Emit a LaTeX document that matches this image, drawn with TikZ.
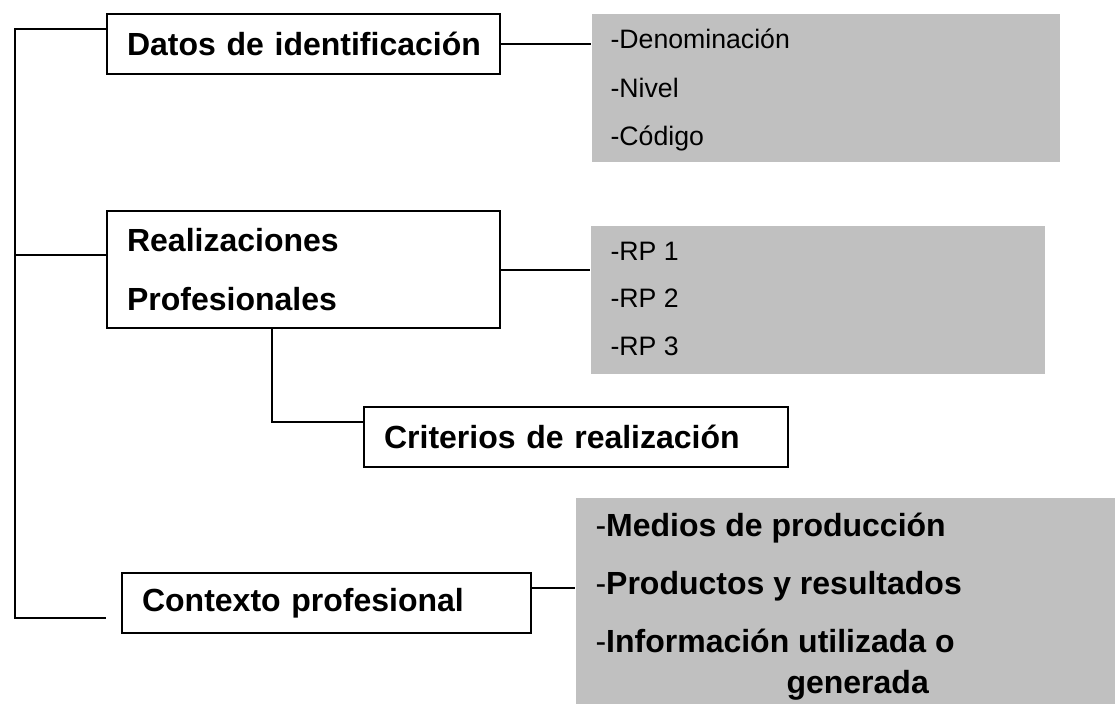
\documentclass[tikz,border=0pt]{standalone}
\usepackage{fontspec}
\setmainfont{Liberation Sans}
\usetikzlibrary{calc}
\definecolor{listgray}{RGB}{192,192,192}

\begin{document}
\begin{tikzpicture}[x=0.375pt,y=-0.375pt,
  box/.style={draw,line width=0.8pt,anchor=north west,align=left,
    inner xsep=7.5pt,inner ysep=0pt,font=\fontsize{12}{22}\bfseries\selectfont},
  list/.style={fill=listgray,anchor=north west,inner sep=0pt},
  item/.style={anchor=base west,inner sep=0pt,font=\fontsize{10}{12}\selectfont},
  bigitem/.style={anchor=base west,inner sep=0pt,font=\fontsize{12}{14}\selectfont},
  link/.style={line width=0.8pt}]
  \useasboundingbox (0,0) rectangle (1115,704);

  % grey lists
  \node[list,minimum width=175.5pt,minimum height=55.5pt] (gray1) at (591,13) {};
  \node[list,minimum width=170.25pt,minimum height=55.5pt] (gray2) at (590,225) {};
  \node[list,minimum width=202.5pt,minimum height=77.6pt] (gray3) at (575,497) {};

  \node[item] (den) at (610,49) {-Denominación};
  \node[item] (niv) at (610,98) {-Nivel};
  \node[item] (cod) at (610,146) {-Código};

  \node[item] (rp1) at (610,261) {-RP 1};
  \node[item] (rp2) at (610,308) {-RP 2};
  \node[item] (rp3) at (610,356) {-RP 3};

  \node[bigitem] (med) at (595,537) {-\textbf{Medios de producción}};
  \node[bigitem] (prod) at (595,594) {-\textbf{Productos y resultados}};
  \node[bigitem] (info) at (595,652) {-\textbf{Información utilizada o}};
  \node[bigitem] (gen) at (786,693) {\textbf{generada}};

  % boxes
  \node[box,minimum width=147.4pt,minimum height=22.5pt,text width=132.4pt]
    (datos) at (106,13) {\mbox{Datos de identificación}};
  \node[box,minimum width=147.4pt,minimum height=43.9pt,text width=132.4pt]
    (real) at (106,210) {Realizaciones\\Profesionales};
  \node[box,minimum width=159pt,minimum height=22.5pt,text width=144pt]
    (crit) at (363,406) {\mbox{Criterios de realización}};
  \node[box,minimum width=153.4pt,minimum height=22.5pt,text width=138.4pt]
    (ctx) at (121,572) {\mbox{Contexto profesional}};

  % left spine
  \coordinate (sptop) at (15,29);
  \coordinate (spmid) at (15,255);
  \coordinate (spbot) at (15,618);
  \coordinate (spend) at (106,618);
  \draw[link] (sptop -| datos.west) -- (sptop) -- (spbot) -- (spend);
  \draw[link] (spmid) -- (spmid -| real.west);

  % links to the lists
  \draw[link] (datos.east) -- (datos.east -| gray1.west);
  \draw[link] (real.east) -- (real.east -| gray2.west);
  \coordinate (ctxport) at ($(ctx.north east)+(0,16)$);
  \draw[link] (ctxport) -- (ctxport -| gray3.west);

  % criterios under realizaciones
  \coordinate (critport) at (272,422);
  \draw[link] (critport |- real.south) -- (critport) -- (critport -| crit.west);

\end{tikzpicture}
\end{document}
